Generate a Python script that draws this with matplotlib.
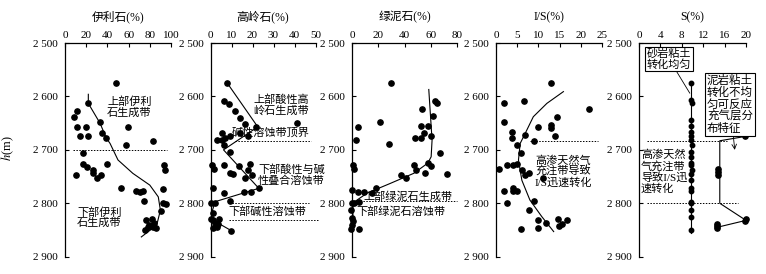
import matplotlib
matplotlib.use("Agg")
import matplotlib.pyplot as plt

plt.rcParams['font.family'] = ['Liberation Serif', 'Noto Sans CJK SC']
plt.rcParams['mathtext.fontset'] = 'stix'

W, H = 766, 274

# ---- data (x in %, depth in m) ----
depth_ticks = [2500, 2600, 2700, 2800, 2900]

illite_x = [48, 22, 11.6, 8.5, 11.6, 19.8, 33, 59.7, 14, 22, 34.6, 39, 83, 58, 17, 17, 21, 26,
            26.7, 29.9, 34, 40, 10, 52.8, 67, 70.7, 74, 74.5, 92, 93, 94, 92, 95, 91, 76, 82,
            84, 79.5, 86, 75.8, 82.7, 78.6]
illite_d = [2575, 2613, 2627, 2639, 2657, 2657, 2647, 2658, 2675, 2674, 2668, 2678, 2683, 2690,
            2705, 2727, 2732, 2738, 2744, 2753, 2748, 2727, 2747, 2771, 2777, 2779, 2777, 2796,
            2774, 2729, 2737, 2799, 2801, 2815, 2832, 2830, 2837, 2841, 2847, 2850, 2844, 2845]
illite_trend_x = [22, 22, 33, 39, 42.5, 50, 64, 80, 88, 90, 86.5, 72]
illite_trend_d = [2596, 2613, 2650, 2678, 2688, 2719, 2744, 2766, 2788, 2813, 2841, 2863]

kaol_x = [7.8, 6.2, 9, 11.7, 14, 16.5, 21.8, 41, 5.7, 9.3, 7, 14, 18, 3, 5.4, 6.2, 9.4, 0.6, 1.7,
          6.2, 13.8, 19, 17.7, 19.8, 9.4, 10.7, 16.2, 1.3, 6.2, 15.8, 19.5, 23, 0, 2.2, 9.4, 1.3,
          0, 1, 2.2, 4, 3.7, 1.3, 3, 9.8]
kaol_d = [2574, 2609, 2615, 2627, 2641, 2652, 2657, 2649, 2668, 2675, 2678, 2669, 2675, 2682,
          2682, 2690, 2704, 2729, 2735, 2729, 2730, 2727, 2738, 2747, 2743, 2746, 2753, 2772,
          2780, 2778, 2778, 2772, 2800, 2799, 2796, 2818, 2830, 2832, 2837, 2830, 2839, 2846,
          2844, 2851]
kaol_trend_x = [7.8, 22.5, 6.2, 23, 2.2, 0.8, 1.5, 4, 9.8]
kaol_trend_d = [2574, 2657, 2700, 2772, 2797, 2815, 2833, 2838, 2851]

chl_x = [29.7, 63.6, 64.4, 53, 61.5, 4.3, 21, 52.5, 57.6, 54.5, 48, 52.5, 60, 2.8, 28.5, 66.7,
         0.8, 1.2, 47, 49, 57.7, 60.3, 55.7, 72, 37.4, 41, 0, 4.3, 8.9, 15.3, 18.6, 5, 0, 1.2,
         -1, 0, 0.8, 0, -1, 5.6]
chl_d = [2575, 2608, 2612, 2624, 2637, 2657, 2647, 2655, 2655, 2668, 2677, 2677, 2674, 2682,
         2689, 2705, 2729, 2735, 2729, 2738, 2725, 2730, 2744, 2745, 2748, 2753, 2775, 2778,
         2778, 2780, 2772, 2797, 2800, 2799, 2813, 2828, 2833, 2841, 2848, 2848]
chl_trend_x = [58.5, 61, 60.3, 57.7, 47, 29, 11.5, 3.8, 0.8, 0.5]
chl_trend_d = [2587, 2682, 2713, 2725, 2744, 2763, 2781, 2794, 2800, 2850]

is_x = [13, 2, 6.7, 22, 1.8, 14.3, 9.9, 13, 13, 3.8, 3.8, 13.9, 6.9, 8.9, 4.9, 5.9, 0.8, 2.7, 4,
        4.9, 6.1, 7.9, 6.9, 11.1, 2, 3.9, 4, 4.9, 2.7, 9, 7.9, 10, 11.8, 10, 5.9, 14.6, 14.8,
        15.6, 16.7]
is_d = [2574, 2613, 2609, 2624, 2647, 2639, 2657, 2654, 2659, 2667, 2678, 2675, 2673, 2683,
        2690, 2705, 2735, 2729, 2729, 2727, 2737, 2744, 2748, 2752, 2777, 2772, 2777, 2777,
        2800, 2796, 2813, 2832, 2836, 2846, 2848, 2830, 2842, 2838, 2832]
is_trend_x = [15.9, 12, 8.8, 6.9, 5.7, 5.3, 6.1, 8, 10.8, 13.6]
is_trend_d = [2591, 2613, 2638, 2669, 2688, 2719, 2757, 2794, 2825, 2853]

s_sand_x = [9.8, 9.8, 9.9, 9.8, 9.8, 9.7, 9.8, 9.8, 9.9, 9.8, 9.7, 9.8, 9.8, 9.9, 9.8, 9.7,
            9.8, 9.8, 9.7, 9.8, 9.8, 9.8, 9.8]
s_sand_d = [2574, 2607, 2613, 2644, 2655, 2666, 2675, 2682, 2691, 2704, 2713, 2725, 2729,
            2737, 2746, 2757, 2772, 2777, 2797, 2800, 2813, 2826, 2850]
s_sand_line_x = [9.8, 9.8]
s_sand_line_d = [2574, 2856]
s_mud_x = [19.8, 14.8, 14.8, 14.7, 20, 19.8, 14.6, 14.6, 14.6]
s_mud_d = [2675, 2736, 2742, 2747, 2830, 2834, 2838, 2843, 2847]
s_mud_line_x = [19.8, 15.1, 15.1, 20, 14.6]
s_mud_line_d = [2675, 2683, 2800, 2832, 2845]

titles = ['伊利石(%)', '高岭石(%)', '绿泥石(%)', 'I/S(%)', 'S(%)']
xticks = [[0, 20, 40, 60, 80, 100], [0, 10, 20, 30, 40, 50], [0, 20, 40, 60, 80],
          [0, 5, 10, 15, 20, 25], [0, 4, 8, 12, 16, 20]]
# panel edges in pixels
spans = [(65, 171), (210.5, 315.5), (352, 457), (496, 602), (639, 746)]
top_px, bot_px = 43, 256.7


def fx(px):
    return px / W


def fy(py):
    return 1 - py / H


fig = plt.figure(figsize=(W / 100, H / 100), dpi=100)
axes = []
for i, (x0, x1) in enumerate(spans):
    ax = fig.add_axes([fx(x0), fy(bot_px), (x1 - x0) / W, (bot_px - top_px) / H])
    ax.set_xlim(xticks[i][0], xticks[i][-1])
    ax.set_ylim(2900, 2500)
    ax.spines['right'].set_visible(False)
    ax.spines['bottom'].set_visible(False)
    for s in ['top', 'left']:
        ax.spines[s].set_linewidth(0.9)
    ax.xaxis.tick_top()
    ax.set_xticks(xticks[i])
    ax.set_yticks(depth_ticks)
    ax.set_yticklabels([f"{d // 1000} {d % 1000:03d}" for d in depth_ticks])
    ax.tick_params(direction='in', length=3, width=0.8, labelsize=8, pad=2)
    ax.tick_params(axis='y', pad=5)
    fig.text(fx((x0 + x1) / 2), fy(17), titles[i], ha='center', va='center', fontsize=8.5)
    axes.append(ax)

fig.text(fx(8), fy(148), '$h$(m)', rotation=90, ha='center', va='center', fontsize=9)

mk = dict(marker='o', ls='none', ms=3.8, color='k', clip_on=False, zorder=3)
ln = dict(color='k', lw=0.8, clip_on=False, zorder=2)
dot = dict(color='k', lw=0.7, ls=(0, (1.5, 1.5)), clip_on=False)

ax = axes[0]
ax.plot(illite_x, illite_d, **mk)
ax.plot(illite_trend_x, illite_trend_d, **ln)
ax.plot([7.5, 96], [2700, 2700], **dot)

ax = axes[1]
ax.plot(kaol_x, kaol_d, **mk)
ax.plot(kaol_trend_x, kaol_trend_d, **ln)
ax.plot([11.8, 47.8], [2683, 2683], **dot)
ax.plot([9, 47], [2800, 2800], **dot)
ax.plot([9, 51], [2831, 2831], **dot)

ax = axes[2]
ax.plot(chl_x, chl_d, **mk)
ax.plot(chl_trend_x, chl_trend_d, **ln)
ax.plot([6, 80], [2795, 2795], **dot)

ax = axes[3]
ax.plot(is_x, is_d, **mk)
ax.plot(is_trend_x, is_trend_d, **ln)
ax.plot([8, 24], [2683, 2683], **dot)

ax = axes[4]
ax.plot(s_sand_line_x, s_sand_line_d, **ln)
ax.plot(s_sand_x, s_sand_d, **dict(mk, ms=3.2))
ax.plot(s_mud_line_x, s_mud_line_d, **ln)
ax.plot(s_mud_x, s_mud_d, **mk)
ax.plot([1.5, 16.4], [2683, 2683], **dot)
ax.plot([1.5, 18.5], [2800, 2800], **dot)

# annotation texts
tk = dict(fontsize=8, linespacing=1.05, va='center', ha='left', zorder=5)
fig.text(fx(107), fy(107), '上部伊利\n石生成带', **tk)
fig.text(fx(77), fy(217.5), '下部伊利\n石生成带', **tk)
fig.text(fx(253), fy(105), '上部酸性高\n岭石生成带', **tk)
fig.text(fx(232), fy(132), '碱性溶蚀带顶界', **tk)
fig.text(fx(258), fy(175), '下部酸性与碱\n性叠合溶蚀带', **tk)
fig.text(fx(228), fy(211.7), '下部碱性溶蚀带', **tk)
fig.text(fx(363), fy(196.7), '上部绿泥石生成带', **tk)
fig.text(fx(356), fy(211.7), '下部绿泥石溶蚀带', **tk)
fig.text(fx(535), fy(171.5), '高渗天然气\n充注带导致\nI/S迅速转化', **tk)
fig.text(fx(641), fy(171.5), '高渗天然\n气充注带\n导致I/S迅\n速转化', **tk)

box = dict(boxstyle='square,pad=0.15', fc='white', ec='k', lw=0.8)
ax.annotate('砂岩粘土\n转化均匀', xy=(9.5, 2594), xycoords='data',
            xytext=(fx(669), fy(59)), textcoords='figure fraction',
            ha='center', va='center', fontsize=8, linespacing=1.0, bbox=box,
            arrowprops=dict(arrowstyle='-', lw=0.6, color='k', shrinkA=0, shrinkB=0),
            annotation_clip=False, zorder=6)
ax.annotate('泥岩粘土\n转化不均\n匀可反应\n充气层分\n布特征', xy=(17.9, 2700), xycoords='data',
            xytext=(fx(730), fy(104.5)), textcoords='figure fraction',
            ha='center', va='center', fontsize=8.3, linespacing=1.0, multialignment='left',
            bbox=box,
            arrowprops=dict(arrowstyle='->', lw=0.6, color='k', shrinkA=0, shrinkB=0),
            annotation_clip=False, zorder=6)

fig.savefig('out.png', dpi=100)
